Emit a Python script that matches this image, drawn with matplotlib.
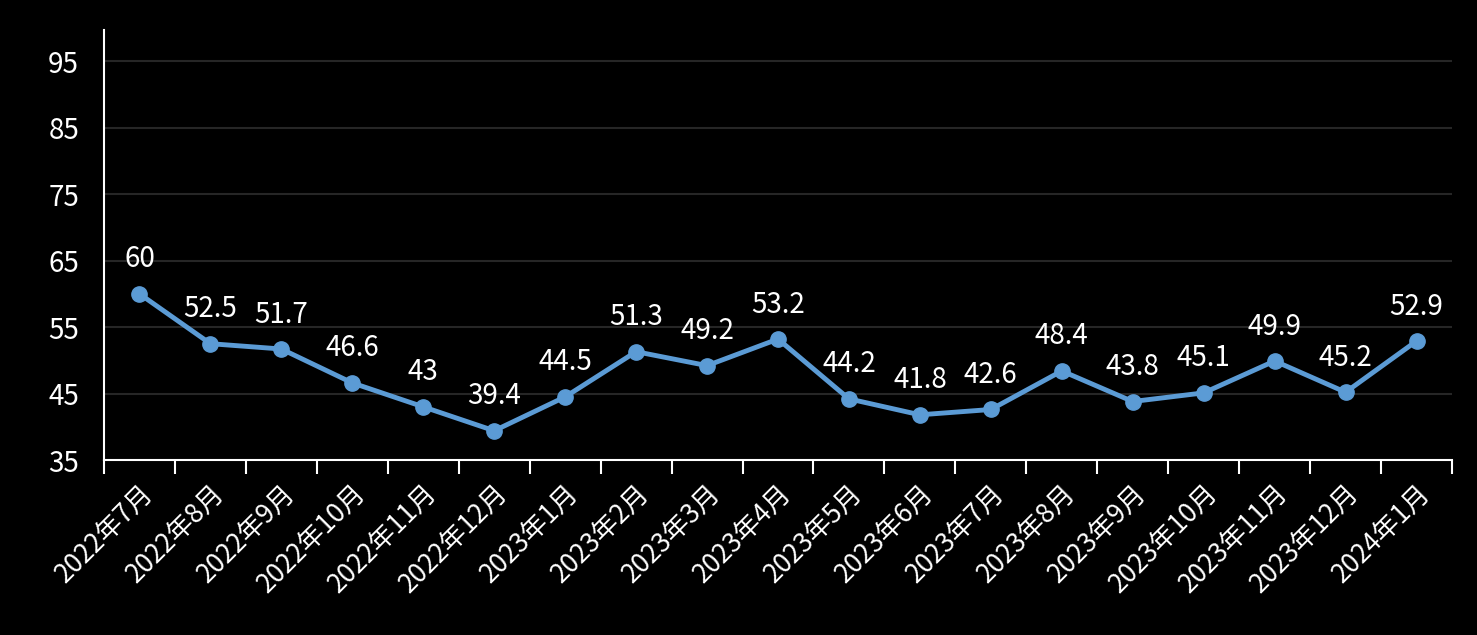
import matplotlib
matplotlib.use("Agg")
import matplotlib.pyplot as plt
import numpy as np

plt.rcParams['font.family'] = ['Noto Sans CJK SC', 'DejaVu Sans']

months = ["2022年7月", "2022年8月", "2022年9月", "2022年10月", "2022年11月",
          "2022年12月", "2023年1月", "2023年2月", "2023年3月", "2023年4月",
          "2023年5月", "2023年6月", "2023年7月", "2023年8月", "2023年9月",
          "2023年10月", "2023年11月", "2023年12月", "2024年1月"]
values = [60, 52.5, 51.7, 46.6, 43, 39.4, 44.5, 51.3, 49.2, 53.2,
          44.2, 41.8, 42.6, 48.4, 43.8, 45.1, 49.9, 45.2, 52.9]
yticks = [35, 45, 55, 65, 75, 85, 95]

fig = plt.figure(figsize=(14.77, 6.35), dpi=100, facecolor="black")
ax = fig.add_axes([104/1477, 175/635, 1348/1477, 430/635], facecolor="black")

x = np.arange(len(months))
ax.plot(x, values, "-o", color="#5B9BD5", lw=3.5, ms=11, zorder=3)
for xi, v in zip(x, values):
    ax.annotate("{:g}".format(v), (xi, v), xytext=(0, 14), textcoords="offset points",
                ha="center", va="bottom", color="white", fontsize=20)

ax.set_xlim(-0.5, len(months) - 0.5)
ax.set_ylim(35, 99.7)
ax.set_yticks(yticks)
ax.set_yticklabels([str(t) for t in yticks], color="white", fontsize=20)
ax.tick_params(axis="y", length=0, pad=18)
for t in yticks[1:]:
    ax.axhline(t, color="#262626", lw=1.5, zorder=1)

ax.set_xticks(x)
ax.set_xticklabels(months, rotation=45, ha="right", rotation_mode="anchor",
                   color="white", fontsize=19)
ax.tick_params(axis="x", length=0, pad=14)
ax.set_xticks(np.arange(-0.5, len(months)), minor=True)
ax.tick_params(axis="x", which="minor", length=10, width=1.5, color="white", direction="out")

for s in ["top", "right"]:
    ax.spines[s].set_visible(False)
for s in ["left", "bottom"]:
    ax.spines[s].set_color("white")
    ax.spines[s].set_linewidth(1.5)

fig.savefig("out.png", dpi=100, facecolor="black")
